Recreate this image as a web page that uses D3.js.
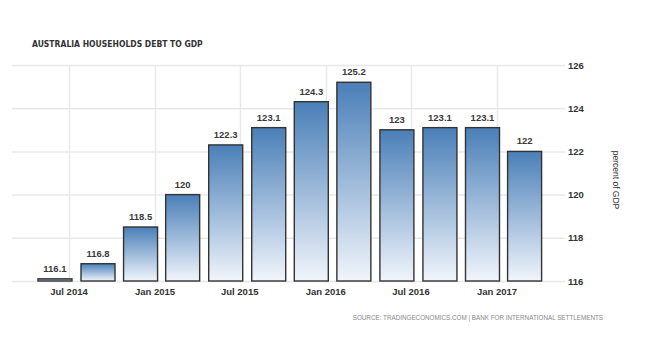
<!DOCTYPE html>
<html><head><meta charset="utf-8">
<script src="https://cdn.jsdelivr.net/npm/d3@7"></script>
<style>body{margin:0;background:#fff}svg{display:block}</style>
</head><body><svg id="c" width="650" height="358"></svg>
<script>
const periods = ["2014-06","2014-09","2014-12","2015-03","2015-06","2015-09","2015-12","2016-03","2016-06","2016-09","2016-12","2017-03"];
const values = [116.1,116.8,118.5,120,122.3,123.1,124.3,125.2,123,123.1,123.1,122];
const labels = ["116.1","116.8","118.5","120","122.3","123.1","124.3","125.2","123","123.1","123.1","122"];
const xTicks = ["2014-07","2015-01","2015-07","2016-01","2016-07","2017-01"];
const yTicks = [116,118,120,122,124,126];

const parse = d3.timeParse("%Y-%m");
const svg = d3.select("#c");
const left = 12, right = 565;
const x = d3.scaleTime().domain([parse("2014-07"), parse("2017-01")]).range([69, 497]);
const y = d3.scaleLinear().domain([116,126]).range([281,65]);
const bw = 34;

const defs = svg.append("defs");
const g = defs.append("linearGradient").attr("id","bg").attr("x1",0).attr("y1",0).attr("x2",0).attr("y2",1);
g.append("stop").attr("offset","0%").attr("stop-color","#4a7fb8");
g.append("stop").attr("offset","100%").attr("stop-color","#f1f5fb");

// grid
svg.append("g").selectAll("line").data(yTicks).join("line")
  .attr("x1",left).attr("x2",right).attr("y1",d=>y(d)+0.5).attr("y2",d=>y(d)+0.5)
  .attr("stroke","#e8e8e8").attr("stroke-width",1.5);
svg.append("g").selectAll("line").data(xTicks).join("line")
  .attr("x1",d=>Math.round(x(parse(d)))+0.5).attr("x2",d=>Math.round(x(parse(d)))+0.5)
  .attr("y1",y(126)).attr("y2",y(116)+2)
  .attr("stroke","#e8e8e8").attr("stroke-width",1.5);

// bars
svg.append("g").selectAll("rect").data(values).join("rect")
  .attr("x",(d,i)=>x(parse(periods[i]))-bw/2)
  .attr("y",d=>y(d))
  .attr("width",bw)
  .attr("height",d=>Math.max(y(116)-y(d),1))
  .attr("fill","url(#bg)")
  .attr("stroke","#333").attr("stroke-width",1.4);

// value labels
svg.append("g").selectAll("text").data(values).join("text")
  .attr("x",(d,i)=>x(parse(periods[i])))
  .attr("y",d=>y(d)-7)
  .attr("text-anchor","middle")
  .attr("font-family","Liberation Sans, Arial, sans-serif")
  .attr("font-size",9.5).attr("font-weight","bold").attr("fill","#3a3a3a")
  .text((d,i)=>labels[i]);

// x axis labels
const fmt = d3.timeFormat("%b %Y");
svg.append("g").selectAll("text").data(xTicks).join("text")
  .attr("x",d=>x(parse(d)))
  .attr("y",295)
  .attr("text-anchor","middle")
  .attr("font-family","Liberation Sans, Arial, sans-serif")
  .attr("font-size",9.5).attr("font-weight","bold").attr("fill","#333")
  .text(d=>fmt(parse(d)));

// y axis (right)
const yAxis = d3.axisRight(y).tickValues(yTicks).tickSize(0).tickPadding(0).tickFormat(d3.format("d"));
const ya = svg.append("g").attr("transform","translate(568,0)").call(yAxis);
ya.select(".domain").remove();
ya.selectAll("text").attr("font-family","Liberation Sans, Arial, sans-serif")
  .attr("font-size",9.5).attr("font-weight","bold").attr("fill","#333");

svg.append("text").attr("transform","translate(613,180) rotate(90)")
  .attr("text-anchor","middle")
  .attr("font-family","Liberation Sans, Arial, sans-serif")
  .attr("font-size",8.5).attr("fill","#333")
  .text("percent of GDP");

svg.append("text").attr("x",32).attr("y",47)
  .attr("font-family","DejaVu Sans Condensed, Liberation Sans Narrow, sans-serif")
  .attr("font-size",8.5).attr("font-weight","bold").attr("fill","#333")
  .text("AUSTRALIA HOUSEHOLDS DEBT TO GDP");

svg.append("text").attr("x",603).attr("y",320)
  .attr("text-anchor","end")
  .attr("font-family","Liberation Sans, Arial, sans-serif")
  .attr("font-size",6.3).attr("fill","#888")
  .text("SOURCE: TRADINGECONOMICS.COM | BANK FOR INTERNATIONAL SETTLEMENTS");
</script></body></html>
